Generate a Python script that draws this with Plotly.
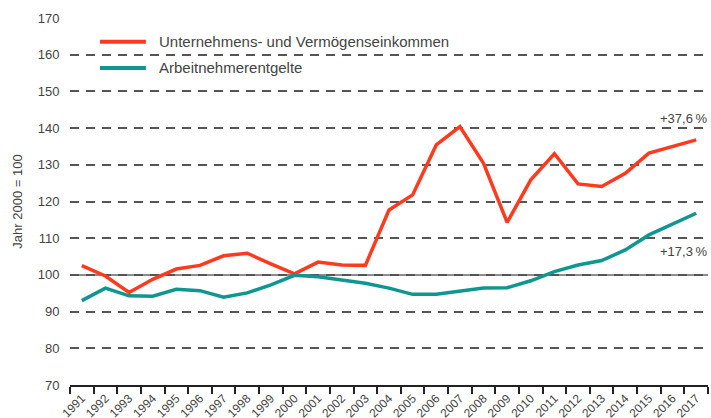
import plotly.graph_objects as go

years = [str(y) for y in range(1991, 2018)]
unternehmen = [102.5, 99.7, 95.2, 98.8, 101.6, 102.6, 105.2, 105.9, 103.0, 100.3,
               103.5, 102.7, 102.6, 117.7, 121.8, 135.4, 140.4, 130.4, 114.3, 125.9,
               133.0, 124.8, 124.1, 127.7, 133.2, 135.0, 136.8]
arbeitnehmer = [93.0, 96.4, 94.3, 94.2, 96.1, 95.7, 93.9, 95.1, 97.3, 99.9,
                99.5, 98.7, 97.7, 96.4, 94.7, 94.7, 95.5, 96.4, 96.5, 98.4,
                100.9, 102.7, 103.9, 106.8, 110.9, 113.9, 116.8]
names = ["Unternehmens- und Vermögenseinkommen", "Arbeitnehmerentgelte"]
colors = ["#ff3a1f", "#0f9690"]
end_labels = ["+37,6\u202f%", "+17,3\u202f%"]
yticks = list(range(70, 171, 10))

FONT = "Liberation Sans, Arial, sans-serif"
TXT = "#444444"

fig = go.Figure()
for name, vals, col in zip(names, [unternehmen, arbeitnehmer], colors):
    fig.add_trace(go.Scatter(x=years, y=vals, mode="lines", name=name,
                             line=dict(color=col, width=3.5), showlegend=False))

# baseline at 100
fig.add_shape(type="line", xref="paper", x0=0, x1=1, yref="y", y0=100, y1=100,
              line=dict(color="#666666", width=1.5), layer="below")

# manual legend
leg_y = [163.5, 156.4]
for name, col, ly in zip(names, colors, leg_y):
    fig.add_shape(type="line", xref="paper", x0=0.047, x1=0.119, yref="y", y0=ly, y1=ly,
                  line=dict(color=col, width=4))
    fig.add_annotation(xref="paper", x=0.137, yref="y", y=ly, text=name, showarrow=False,
                       xanchor="left", yanchor="middle",
                       font=dict(family=FONT, size=15, color=TXT))

# end labels
for lbl, ly in zip(end_labels, [142.5, 106.5]):
    fig.add_annotation(xref="paper", x=1.002, yref="y", y=ly, text=lbl, showarrow=False,
                       xanchor="right", yanchor="middle",
                       font=dict(family=FONT, size=13, color=TXT))

fig.update_layout(
    width=711, height=418,
    margin=dict(l=70, r=3, t=18, b=33, autoexpand=False),
    paper_bgcolor="white", plot_bgcolor="white",
    font=dict(family=FONT, color=TXT, size=13),
    xaxis=dict(type="category", range=[-0.5, 26.5], tickson="boundaries",
               ticks="outside", ticklen=7, tickcolor="#222222", tickwidth=1.5,
               showline=True, linecolor="#222222", linewidth=1.5,
               showgrid=False, tickangle=-45,
               tickfont=dict(family=FONT, size=12, color=TXT), fixedrange=True),
    yaxis=dict(range=[70, 170], tickvals=yticks, showgrid=True,
               gridcolor="#555555", gridwidth=1.5, griddash="9px,7px",
               zeroline=False, showline=False, ticks="outside", ticklen=7,
               tickcolor="rgba(0,0,0,0)",
               tickfont=dict(family=FONT, size=13, color=TXT),
               title=dict(text="Jahr 2000 = 100", standoff=12,
                          font=dict(family=FONT, size=13, color=TXT)),
               fixedrange=True),
)

fig.write_html("out.html", config={"displayModeBar": False},
               post_script="document.body.style.margin='0';document.body.style.overflow='hidden';")
